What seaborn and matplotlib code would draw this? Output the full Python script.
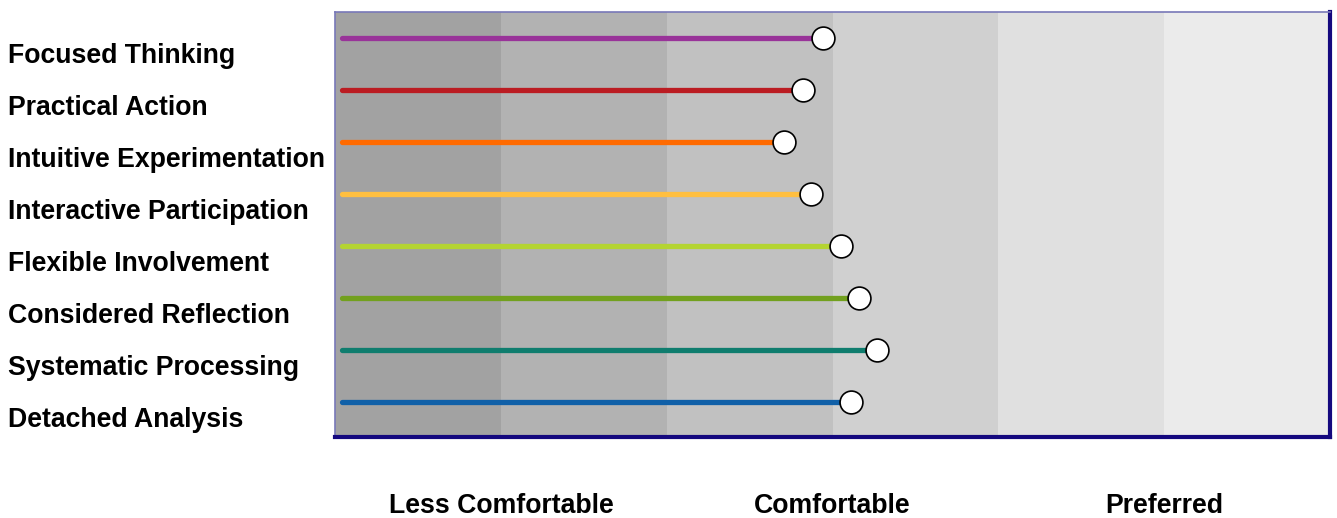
import pandas as pd
import numpy as np
import matplotlib.pyplot as plt
import matplotlib.transforms as mtransforms
import seaborn as sns

# данные
styles = ['Focused Thinking', 'Practical Action', 'Intuitive Experimentation',
          'Interactive Participation', 'Flexible Involvement', 'Considered Reflection',
          'Systematic Processing', 'Detached Analysis']
scores = [2.94, 2.82, 2.71, 2.87, 3.05, 3.16, 3.27, 3.11]
line_colors = ['#993399', '#bb1c22', '#ff6a00', '#ffbf40', '#b4d432', '#72a01e', '#0f7d6e', '#1060a8']
zone_labels = ['Less Comfortable', 'Comfortable', 'Preferred']
band_colors = ['#a2a2a2', '#b2b2b2', '#c1c1c1', '#d0d0d0', '#e0e0e0', '#ebebeb']
start = 0.04

rows = list(range(len(styles)))
df = pd.DataFrame({
    'style': styles * 2,
    'x': [start] * len(styles) + scores,
    'y': rows * 2,
})
ends = pd.DataFrame({'style': styles, 'x': scores, 'y': rows})

sns.set_style('white')
plt.rcParams['font.family'] = ['Liberation Sans', 'DejaVu Sans']
plt.rcParams['text.color'] = 'black'
plt.rcParams['xtick.color'] = 'black'

fig = plt.figure(figsize=(13.37, 5.18), dpi=100)
ax = fig.add_axes([0.2506, 0.1564, 0.7442, 0.8204])

# полосы фона
for i, c in enumerate(band_colors):
    ax.axvspan(i, i + 1, color=c, lw=0, zorder=0)

sns.lineplot(data=df, x='x', y='y', hue='style', palette=dict(zip(styles, line_colors)),
             units='style', estimator=None, sort=False, linewidth=3.8,
             solid_capstyle='round', legend=False, ax=ax, zorder=2)
sns.scatterplot(data=ends, x='x', y='y', s=270, color='white', edgecolor='black',
                linewidth=1.2, legend=False, ax=ax, zorder=3)

ax.set_xlim(0, 6)
ax.set_ylim(7.67, -0.5)
ax.set_xlabel('')
ax.set_ylabel('')
ax.set_yticks([])
ax.set_xticks([1, 3, 5])
ax.set_xticklabels(zone_labels, fontsize=19.2, fontweight='bold')
ax.tick_params(axis='x', length=0, pad=40)

trans = mtransforms.blended_transform_factory(fig.transFigure, ax.transData)
for i, s in enumerate(styles):
    ax.text(8 / 1337, i + 0.35, s, transform=trans,
            fontsize=19.2, fontweight='bold', va='center', ha='left')

for side in ['left', 'top']:
    ax.spines[side].set_color('#7878b8')
    ax.spines[side].set_linewidth(1.2)
for side in ['right', 'bottom']:
    ax.spines[side].set_color('#14087e')
    ax.spines[side].set_linewidth(3)

plt.savefig('out.png', dpi=100)
